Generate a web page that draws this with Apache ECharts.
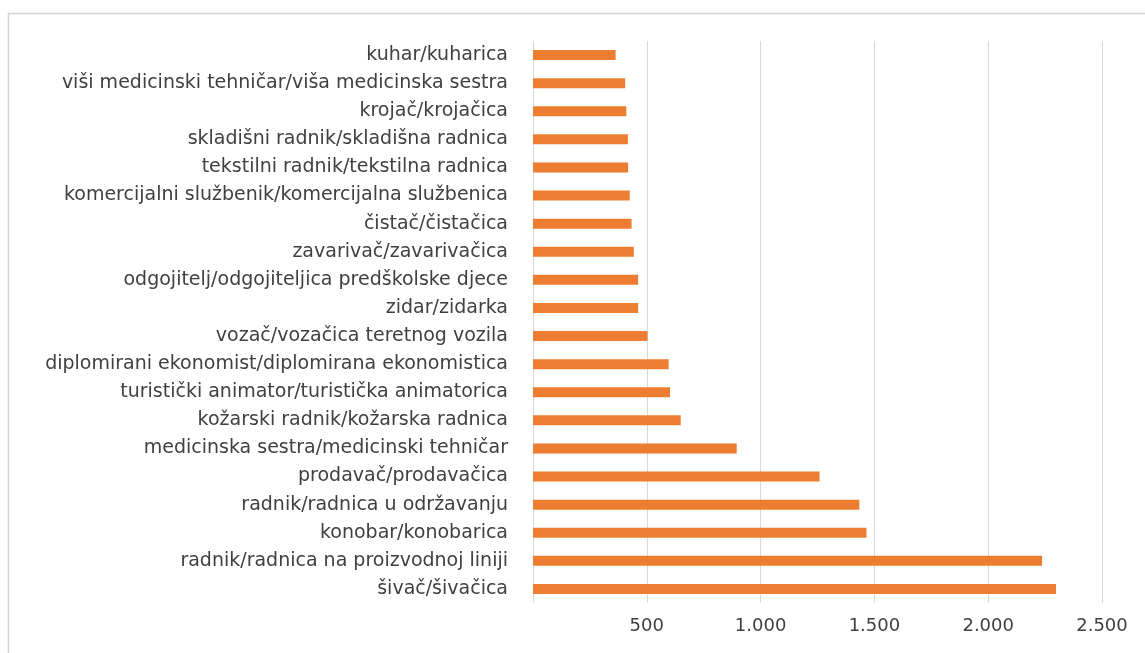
<!DOCTYPE html>
<html>
<head>
<meta charset="utf-8">
<script src="https://cdn.jsdelivr.net/npm/echarts@6/dist/echarts.min.js"></script>
<style>
  html, body { margin: 0; padding: 0; background: #fff; }
  #chart { width: 1145px; height: 653px; }
</style>
</head>
<body>
<div id="chart"></div>
<script>
// Occupations, listed bottom to top along the category axis
const occupations = [
  'šivač/šivačica',
  'radnik/radnica na proizvodnoj liniji',
  'konobar/konobarica',
  'radnik/radnica u održavanju',
  'prodavač/prodavačica',
  'medicinska sestra/medicinski tehničar',
  'kožarski radnik/kožarska radnica',
  'turistički animator/turistička animatorica',
  'diplomirani ekonomist/diplomirana ekonomistica',
  'vozač/vozačica teretnog vozila',
  'zidar/zidarka',
  'odgojitelj/odgojiteljica predškolske djece',
  'zavarivač/zavarivačica',
  'čistač/čistačica',
  'komercijalni službenik/komercijalna službenica',
  'tekstilni radnik/tekstilna radnica',
  'skladišni radnik/skladišna radnica',
  'krojač/krojačica',
  'viši medicinski tehničar/viša medicinska sestra',
  'kuhar/kuharica'
];

// Count for each occupation, same order as above
const counts = [
  2298, 2237, 1465, 1434, 1259, 895, 649, 602, 596, 503,
  462, 462, 443, 433, 425, 418, 417, 410, 405, 363
];

// Value axis ticks
const axisMax = 2500;
const axisStep = 500;

const fmt = v => v === 0 ? '' : String(v).replace(/\B(?=(\d{3})+(?!\d))/g, '.');

const chart = echarts.init(document.getElementById('chart'), null, { renderer: 'canvas' });
const textColor = '#404040';
const fontFamily = 'DejaVu Sans';

chart.setOption({
  backgroundColor: '#ffffff',
  animation: false,
  graphic: [{
    type: 'rect',
    shape: { x: 8.5, y: 13.5, width: 1200, height: 700 },
    style: { fill: 'none', stroke: '#d4d4d4', lineWidth: 1.5 },
    silent: true
  }],
  grid: { left: 533, right: 43, top: 41, bottom: 50, containLabel: false },
  xAxis: {
    type: 'value',
    min: 0,
    max: axisMax,
    interval: axisStep,
    axisLine: { show: false },
    axisTick: { show: false },
    splitLine: { show: true, lineStyle: { color: '#d9d9d9', width: 1 } },
    axisLabel: { margin: 14, formatter: fmt, fontFamily, fontSize: 18, color: textColor }
  },
  yAxis: {
    type: 'category',
    data: occupations,
    axisLine: { show: false },
    axisTick: { show: false },
    splitLine: { show: false },
    axisLabel: { margin: 25, interval: 0, fontFamily, fontSize: 19, color: textColor }
  },
  series: [{
    type: 'bar',
    data: counts,
    barWidth: 10,
    itemStyle: { color: '#ed7d31' }
  }]
});
</script>
</body>
</html>
